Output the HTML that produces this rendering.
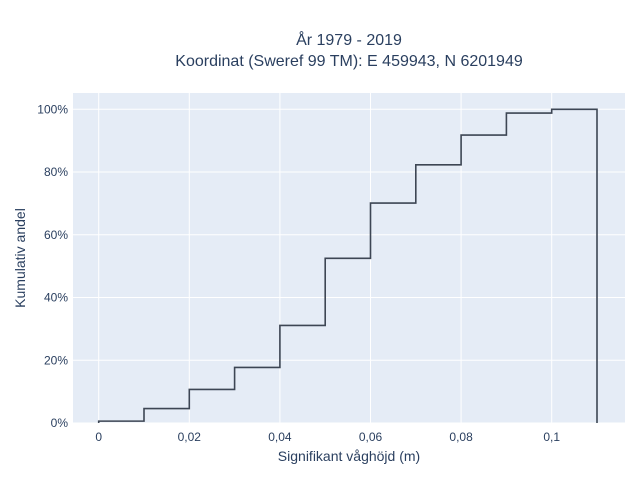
<!DOCTYPE html>
<html><head><meta charset="utf-8"><style>
body{margin:0;background:#fff;font-family:"Liberation Sans",sans-serif;}
svg text{font-family:"Liberation Sans",sans-serif;fill:#2a3f5f;}
</style></head><body>
<svg id="chart" width="640" height="480" xmlns="http://www.w3.org/2000/svg">
<text x="349" y="45" text-anchor="middle" font-size="16">År 1979 - 2019</text>
<text x="349" y="66" text-anchor="middle" font-size="16">Koordinat (Sweref 99 TM): E 459943, N 6201949</text>
<rect x="73" y="93" width="552" height="330" fill="#e5ecf6"/>
<g id="grid"></g><g id="ticks"></g><g id="series"></g>
<text x="349" y="461" text-anchor="middle" font-size="14">Signifikant våghöjd (m)</text>
<text transform="translate(25,258) rotate(-90)" text-anchor="middle" font-size="14">Kumulativ andel</text>
</svg>
<script>
const xEdges=[0,0.01,0.02,0.03,0.04,0.05,0.06,0.07,0.08,0.09,0.1,0.11];
const cumValues=[0.6,4.6,10.7,17.7,31.1,52.5,70.1,82.3,91.8,98.8,100];
const xTicks=[0,0.02,0.04,0.06,0.08,0.1];
const xTickLabels=["0","0,02","0,04","0,06","0,08","0,1"];
const yTicks=[0,20,40,60,80,100];
const yTickLabels=["0%","20%","40%","60%","80%","100%"];
const X=v=>98.7+v*4530, Y=v=>423-v*3.137;
const NS="http://www.w3.org/2000/svg";
function mk(t,a,p){const e=document.createElementNS(NS,t);for(const k in a)e.setAttribute(k,a[k]);p.appendChild(e);return e;}
const g=document.getElementById('grid'),tk=document.getElementById('ticks'),s=document.getElementById('series');
xTicks.forEach((v,i)=>{const l=mk('line',{x1:X(v),x2:X(v),y1:93,y2:423,stroke:'#fff','stroke-width':1},g);


const t=mk('text',{x:X(v),y:441,'text-anchor':'middle','font-size':12},tk);t.textContent=xTickLabels[i];

});
yTicks.forEach((v,i)=>{const l=mk('line',{x1:73,x2:625,y1:Y(v),y2:Y(v),stroke:'#fff','stroke-width':1},g);


const t=mk('text',{x:68,y:Y(v)+4,'text-anchor':'end','font-size':12},tk);t.textContent=yTickLabels[i];

});
let d='M'+X(xEdges[0])+','+Y(0);
cumValues.forEach((v,i)=>{d+=' L'+X(xEdges[i])+','+Y(v)+' L'+X(xEdges[i+1])+','+Y(v);});
d+=' L'+X(xEdges[xEdges.length-1])+','+Y(0);
const p=mk('path',{d:d,fill:'none',stroke:'#3d4654','stroke-width':1.6},s);


</script>
</body></html>
